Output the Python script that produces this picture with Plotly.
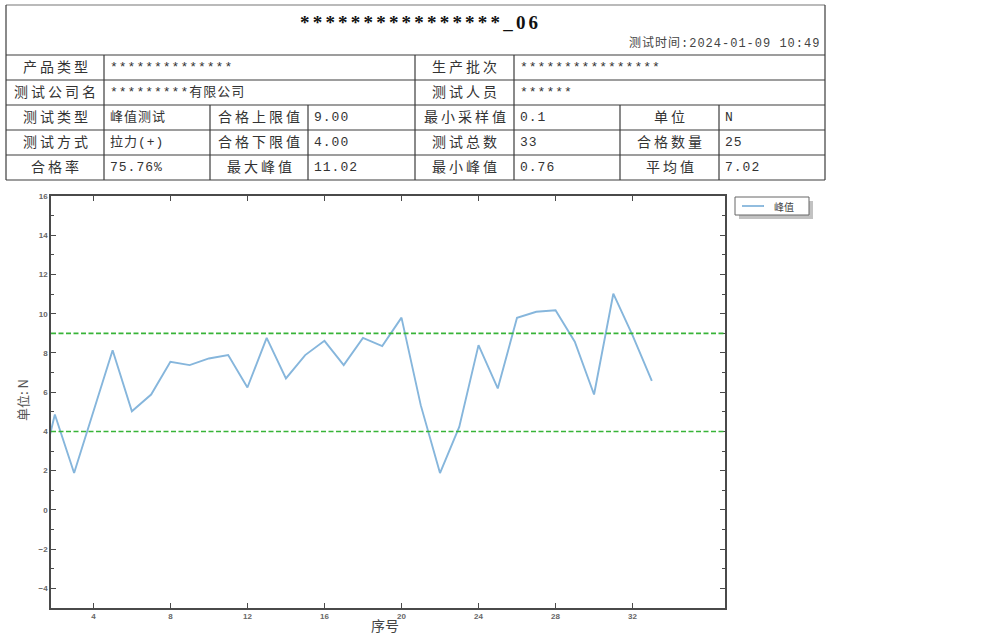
import plotly.graph_objects as go

# ---------------- data ----------------
seq = list(range(1, 34))
peak = [0.76, 4.86, 1.88, 5.00, 8.14, 5.03, 5.88, 7.55, 7.38, 7.72, 7.89,
        6.24, 8.77, 6.70, 7.89, 8.62, 7.38, 8.77, 8.35, 9.80, 5.34, 1.88,
        4.23, 8.40, 6.19, 9.79, 10.10, 10.18, 8.57, 5.88, 11.02, 8.90, 6.58]
upper_limit = 9.0
lower_limit = 4.0
x_ticks = [4, 8, 12, 16, 20, 24, 28, 32]
y_ticks = [-4, -2, 0, 2, 4, 6, 8, 10, 12, 14, 16]

report_title = "****************_06"
test_time = "测试时间:2024-01-09 10:49"
rows_top = [
    ["产品类型", "**************", "生产批次", "****************"],
    ["测试公司名", "*********有限公司", "测试人员", "******"],
]
rows_grid = [
    ["测试类型", "峰值测试", "合格上限值", "9.00", "最小采样值", "0.1", "单位", "N"],
    ["测试方式", "拉力(+)", "合格下限值", "4.00", "测试总数", "33", "合格数量", "25"],
    ["合格率", "75.76%", "最大峰值", "11.02", "最小峰值", "0.76", "平均值", "7.02"],
]
series_name = "峰值"
x_title = "序号"
y_title = "单位: N"

# ---------------- layout geometry (pixels) ----------------
FIG_W, FIG_H = 1001, 639
PL, PR, PT, PB = 51, 725, 196, 608
PW, PH = PR - PL, PB - PT


def px(xp):
    return (xp - PL) / PW


def py(yp):
    return (PB - yp) / PH


COLS = [6, 104, 210, 308, 415, 514, 620, 719, 825]
ROWS = [5, 55, 80, 105, 130, 155, 180]

CJK = "Noto Sans CJK SC"
LABEL_FONT = dict(family=CJK, size=14, color="#333333")
VALUE_FONT = dict(family="Liberation Mono, " + CJK, size=13, color="#333333")
BORDER = dict(color="#3c3c3c", width=1.2)
LINE_COLOR = "#86b6dc"


def spaced(t, s):
    return f'<span style="letter-spacing:{s}px">{t}</span>'


shapes = []
annotations = []


def hline(y, x0, x1, line=BORDER):
    shapes.append(dict(type="line", xref="paper", yref="paper",
                       x0=px(x0), x1=px(x1), y0=py(y), y1=py(y), line=line))


def vline(x, y0, y1, line=BORDER):
    shapes.append(dict(type="line", xref="paper", yref="paper",
                       x0=px(x), x1=px(x), y0=py(y0), y1=py(y1), line=line))


# outer frame
hline(ROWS[0], COLS[0], COLS[-1], dict(color="#777777", width=1.2))
hline(ROWS[-1], COLS[0], COLS[-1])
vline(COLS[0], ROWS[0], ROWS[-1])
vline(COLS[-1], ROWS[0], ROWS[-1])
for r in ROWS[1:-1]:
    hline(r, COLS[0], COLS[-1])
for c in (COLS[1], COLS[4], COLS[5]):
    vline(c, ROWS[1], ROWS[3])
for c in COLS[1:-1]:
    vline(c, ROWS[3], ROWS[-1])


def label(text, x0, x1, y0, y1):
    annotations.append(dict(xref="paper", yref="paper", x=px((x0 + x1) / 2 + 1.5),
                            y=py((y0 + y1) / 2 - 1.5), xanchor="center", yanchor="middle",
                            text=spaced(text, 3), showarrow=False, font=LABEL_FONT))


def value(text, x0, y0, y1):
    annotations.append(dict(xref="paper", yref="paper", x=px(x0 + 4),
                            y=py((y0 + y1) / 2), xanchor="left", yanchor="middle",
                            text=spaced(text, 1), showarrow=False, font=VALUE_FONT))


top_spans = [(0, 1), (1, 4), (4, 5), (5, 8)]
for ri, row in enumerate(rows_top):
    y0, y1 = ROWS[1 + ri], ROWS[2 + ri]
    for ci, t in enumerate(row):
        a, b = top_spans[ci]
        if ci % 2 == 0:
            label(t, COLS[a], COLS[b], y0, y1)
        else:
            value(t, COLS[a], y0, y1)

for ri, row in enumerate(rows_grid):
    y0, y1 = ROWS[3 + ri], ROWS[4 + ri]
    for ci, t in enumerate(row):
        if ci % 2 == 0:
            label(t, COLS[ci], COLS[ci + 1], y0, y1)
        else:
            value(t, COLS[ci], y0, y1)

annotations.append(dict(xref="paper", yref="paper", x=px(420), y=py(22),
                        xanchor="center", yanchor="middle", showarrow=False,
                        text=spaced(report_title, 3.2),
                        font=dict(family="Liberation Serif", size=19, color="#111111",
                                  weight="bold")))
annotations.append(dict(xref="paper", yref="paper", x=px(822), y=py(43),
                        xanchor="right", yanchor="middle", showarrow=False,
                        text=spaced(test_time, 1),
                        font=dict(family="Liberation Mono, " + CJK, size=12, color="#444444")))

# limit lines
for lim in (upper_limit, lower_limit):
    shapes.append(dict(type="line", xref="paper", yref="y", x0=0, x1=1, y0=lim, y1=lim,
                       line=dict(color="#38b438", width=1.6, dash="5px,2.5px"), layer="above"))

# legend box (drawn by hand: shadow, frame, sample line, label)
shapes.append(dict(type="rect", xref="paper", yref="paper",
                   x0=px(739), x1=px(813), y0=py(201), y1=py(219),
                   fillcolor="#c2c2c2", line=dict(width=0), layer="above"))
shapes.append(dict(type="rect", xref="paper", yref="paper",
                   x0=px(735), x1=px(809), y0=py(197), y1=py(215),
                   fillcolor="white", line=dict(color="#666666", width=1), layer="above"))
shapes.append(dict(type="line", xref="paper", yref="paper",
                   x0=px(742), x1=px(764), y0=py(206), y1=py(206),
                   line=dict(color=LINE_COLOR, width=1.8), layer="above"))
annotations.append(dict(xref="paper", yref="paper", x=px(772), y=py(206),
                        xanchor="left", yanchor="middle", showarrow=False, text=series_name,
                        font=dict(family=CJK, size=10, color="#444444")))

# axis titles
annotations.append(dict(xref="paper", yref="paper", x=px(22), y=py(400), textangle=-90,
                        xanchor="center", yanchor="middle", showarrow=False, text=y_title,
                        font=dict(family=CJK, size=13, color="#555555")))
annotations.append(dict(xref="paper", yref="paper", x=px(385), y=py(625),
                        xanchor="center", yanchor="middle", showarrow=False, text=x_title,
                        font=dict(family=CJK, size=14, color="#444444")))

fig = go.Figure()
fig.add_trace(go.Scatter(x=seq, y=peak, mode="lines", name=series_name,
                         line=dict(color=LINE_COLOR, width=1.9)))

axis_common = dict(showline=True, linecolor="#4a4a4a", linewidth=1.5, mirror="ticks",
                   ticks="inside", ticklen=5, tickwidth=1, tickcolor="#4a4a4a",
                   showgrid=False, zeroline=False, automargin=False,
                   tickfont=dict(family="Liberation Sans", size=8, color="#666666",
                                 weight="bold"))

fig.update_layout(
    width=FIG_W, height=FIG_H,
    margin=dict(l=PL, r=FIG_W - PR, t=PT, b=FIG_H - PB),
    paper_bgcolor="white", plot_bgcolor="white",
    xaxis=dict(range=[1.8, 36.8], tickvals=x_ticks, **axis_common),
    yaxis=dict(range=[-5, 16], tickvals=y_ticks,
               minor=dict(ticks="inside", ticklen=3, dtick=1, tickcolor="#4a4a4a"),
               **axis_common),
    showlegend=False,
    shapes=shapes,
    annotations=annotations,
)

fig.write_html("out.html")
